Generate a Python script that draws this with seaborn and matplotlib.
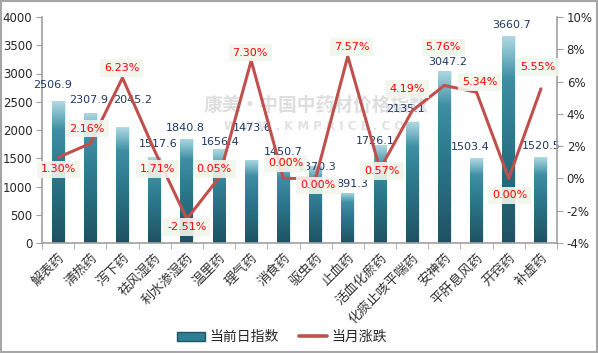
import numpy as np
import pandas as pd
import matplotlib
matplotlib.use("Agg")
import matplotlib.pyplot as plt
import seaborn as sns
from matplotlib.colors import LinearSegmentedColormap
from matplotlib.lines import Line2D
from matplotlib.patches import Patch, Rectangle

categories = ["解表药", "清热药", "泻下药", "祛风湿药", "利水渗湿药", "温里药", "理气药", "消食药",
              "驱虫药", "止血药", "活血化瘀药", "化痰止咳平喘药", "安神药", "平肝息风药", "开窍药", "补虚药"]
index_values = [2506.9, 2307.9, 2045.2, 1517.6, 1840.8, 1656.4, 1473.6, 1450.7,
                1370.3, 891.3, 1726.1, 2135.1, 3047.2, 1503.4, 3660.7, 1520.5]
monthly_change = [1.30, 2.16, 6.23, 1.71, -2.51, 0.05, 7.30, 0.00,
                  0.00, 7.57, 0.57, 4.19, 5.76, 5.34, 0.00, 5.55]
left_ticks = [0, 500, 1000, 1500, 2000, 2500, 3000, 3500, 4000]
right_ticks = [-4, -2, 0, 2, 4, 6, 8, 10]
series_names = ["当前日指数", "当月涨跌"]

# label offsets in pixels (layout only)
val_off = [(-6, 16), (-2, 13), (10, 27), (4, 13), (-2, 11), (1, 7), (1, 32), (0, 9),
           (2, -1), (4, 9), (-5, 4), (-7, 13), (3, 9), (-6, 11), (3, 11), (0, 11)]
pct_off = [(0, -12), (-3, 15), (-1, 10), (3, -18), (0, -8), (-5, 9), (-1, 8), (2, 15),
           (2, -7), (4, 9), (2, -2), (-5, 22), (-1, 38), (3, 10), (1, -17), (-3, 22)]

sns.set_style("white")
plt.rcParams["font.family"] = ["DejaVu Sans", "Noto Sans CJK SC"]
cjk = ["Noto Sans CJK SC", "DejaVu Sans"]

fig = plt.figure(figsize=(5.98, 3.53), dpi=100)
fig.patch.set_facecolor("white")
fig.patches.append(Rectangle((0.001, 0.002), 0.997, 0.995, transform=fig.transFigure,
                             fill=False, edgecolor="#a6a6a6", linewidth=1.5))
ax = fig.add_axes([42 / 598, 1 - 243 / 353, (557 - 42) / 598, (243 - 17) / 353])

df = pd.DataFrame({"cat": categories, "val": index_values})
sns.barplot(data=df, x="cat", y="val", ax=ax, width=0.4, color="#2e7f94", saturation=1)
ax.set_ylim(0, 4000)
ax.set_xlim(-0.5, len(categories) - 0.5)

cmap = LinearSegmentedColormap.from_list(
    "bar", [(0.0, "#b0d9e3"), (0.06, "#8ec4d2"), (0.2, "#3f8fa4"), (0.5, "#2c788d"), (1.0, "#1f5262")])
grad = np.linspace(0, 1, 256).reshape(-1, 1)
for p in list(ax.patches):
    x0, y0, w, h = p.get_x(), p.get_y(), p.get_width(), p.get_height()
    p.set_facecolor("none")
    p.set_edgecolor("#cfe6ec")
    p.set_linewidth(0.5)
    im = ax.imshow(grad, cmap=cmap, aspect="auto", extent=(x0, x0 + w, y0, y0 + h),
                   origin="upper", zorder=1.5, interpolation="bilinear")
    im.set_clip_path(p)
ax.set_xlim(-0.5, len(categories) - 0.5)
ax.set_ylim(0, 4000)

# watermark (behind the marks)
ax.text((316 - 42) / 515, (243 - 105) / 226, "康美·中国中药材价格指数",
        transform=ax.transAxes, fontsize=13.5, fontweight="bold", color="#dedede",
        ha="center", va="center", family=cjk, zorder=0.5)
ax.text((322 - 42) / 515, (243 - 127) / 226, "W W W . K M P R I C E . C O M",
        transform=ax.transAxes, fontsize=8.5, fontweight="bold", color="#e2e2e2",
        ha="center", va="center", zorder=0.5)

# value labels
for i, v in enumerate(index_values):
    dx, dy = val_off[i]
    ax.annotate(f"{v:.1f}", (i, v), xytext=(dx, dy), textcoords="offset pixels",
                ha="center", va="center", fontsize=8, color="#1f3864", zorder=5)

ax2 = ax.twinx()
ax2.set_position(ax.get_position())
sns.lineplot(x=list(range(len(categories))), y=monthly_change, ax=ax2, sort=False,
             color="#c0504d", linewidth=2.2, zorder=4)
ax2.set_ylim(-4, 10)
ax2.set_xlim(-0.5, len(categories) - 0.5)

for i, pv in enumerate(monthly_change):
    dx, dy = pct_off[i]
    ax2.annotate(f"{pv:.2f}%", (i, pv), xytext=(dx, dy), textcoords="offset pixels",
                 ha="center", va="center", fontsize=8, color="#ff0000", zorder=6,
                 bbox=dict(boxstyle="square,pad=0.35", facecolor="#f2f5ec", edgecolor="none", alpha=0.9))

# axes styling
ax.set_yticks(left_ticks)
ax.set_yticklabels([str(t) for t in left_ticks], fontsize=8.5)
ax2.set_yticks(right_ticks)
ax2.set_yticklabels([f"{t}%" for t in right_ticks], fontsize=8.5)
ax.set_xticks(range(len(categories)))
ax.set_xticklabels(categories, rotation=45, ha="right", rotation_mode="anchor",
                   fontsize=9.5, family=cjk, color="#333333")
ax.tick_params(axis="x", length=0, pad=6)
ax.set_xlabel("")
ax.set_ylabel("")
ax2.set_ylabel("")
ax.tick_params(axis="y", direction="out", length=4, color="#a0a0a0", pad=3, left=True)
ax2.tick_params(axis="y", direction="out", length=4, color="#a0a0a0", pad=3, right=True)
for t in ax2.get_xticklabels():
    t.set_visible(False)
# boundary ticks on bottom
ax.set_xticks(np.arange(-0.5, len(categories) + 0.5, 1), minor=True)
ax.tick_params(axis="x", which="minor", direction="out", length=4, color="#a0a0a0", bottom=True)

for a in (ax, ax2):
    for s in a.spines.values():
        s.set_visible(False)
ax.spines["left"].set_visible(True)
ax.spines["left"].set_color("#a0a0a0")
ax.spines["bottom"].set_visible(True)
ax.spines["bottom"].set_color("#a0a0a0")
ax2.spines["right"].set_visible(True)
ax2.spines["right"].set_color("#a0a0a0")
for s in ("left", "bottom"):
    ax.spines[s].set_linewidth(1.2)
ax2.spines["right"].set_linewidth(1.2)

handles = [Patch(facecolor="#2e7f94", edgecolor="#1f5565"),
           Line2D([0], [0], color="#c0504d", linewidth=2.6)]
fig.legend(handles, series_names, loc="center", bbox_to_anchor=(282 / 598, 1 - 337 / 353),
           ncol=2, frameon=False, prop={"family": cjk, "size": 10},
           handlelength=2.0, handleheight=0.6, columnspacing=1.5, handletextpad=0.3)

fig.savefig("out.png", dpi=100)
